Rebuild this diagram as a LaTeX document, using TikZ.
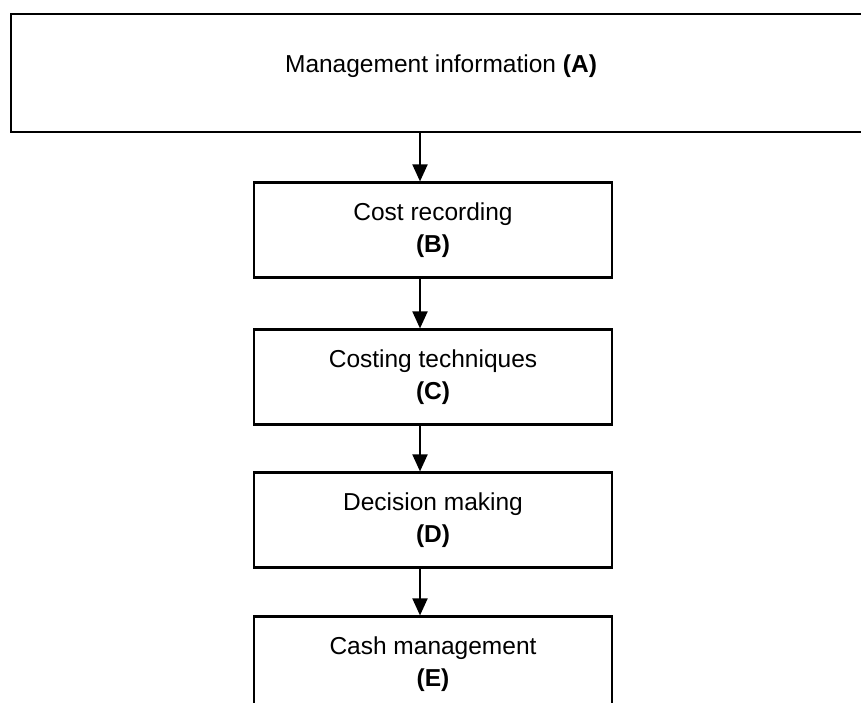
\documentclass[tikz,border=0pt]{standalone}
\usepackage{fontspec}
\setmainfont{Liberation Sans}
\usetikzlibrary{arrows.meta}

\tikzset{
  mainbox/.style={draw, line width=2.2pt, minimum width=860pt, minimum height=118pt,
    inner sep=0pt, text depth=18pt, font=\fontsize{24.5}{32}\selectfont},
  stagebox/.style={draw, line width=2.2pt, minimum width=358pt, minimum height=95pt,
    inner sep=0pt, align=center, font=\fontsize{24.5}{32}\selectfont},
  flow/.style={-{Triangle[length=17pt,width=15pt]}, line width=2pt}
}

\begin{document}
\begin{tikzpicture}[x=1pt,y=-1pt]
\useasboundingbox (0,0) rectangle (861,702);
\clip (0,0) rectangle (861,702);
% boxes
\node [mainbox] (mgmt) at (441,73) {Management information \textbf{(A)}};
\node [stagebox] (cost) at (433,230) {Cost recording\\\textbf{(B)}};
\node [stagebox] (tech) at (433,377) {Costing techniques\\\textbf{(C)}};
\node [stagebox] (dec) at (433,520) {Decision making\\\textbf{(D)}};
\node [stagebox] (cash) at (433,664) {Cash management\\\textbf{(E)}};
% arrows
\coordinate (axis) at (420,0);
\draw [flow] (mgmt.south -| axis) -- (cost.north -| axis);
\draw [flow] (cost.south -| axis) -- (tech.north -| axis);
\draw [flow] (tech.south -| axis) -- (dec.north -| axis);
\draw [flow] (dec.south -| axis) -- (cash.north -| axis);
\end{tikzpicture}
\end{document}
